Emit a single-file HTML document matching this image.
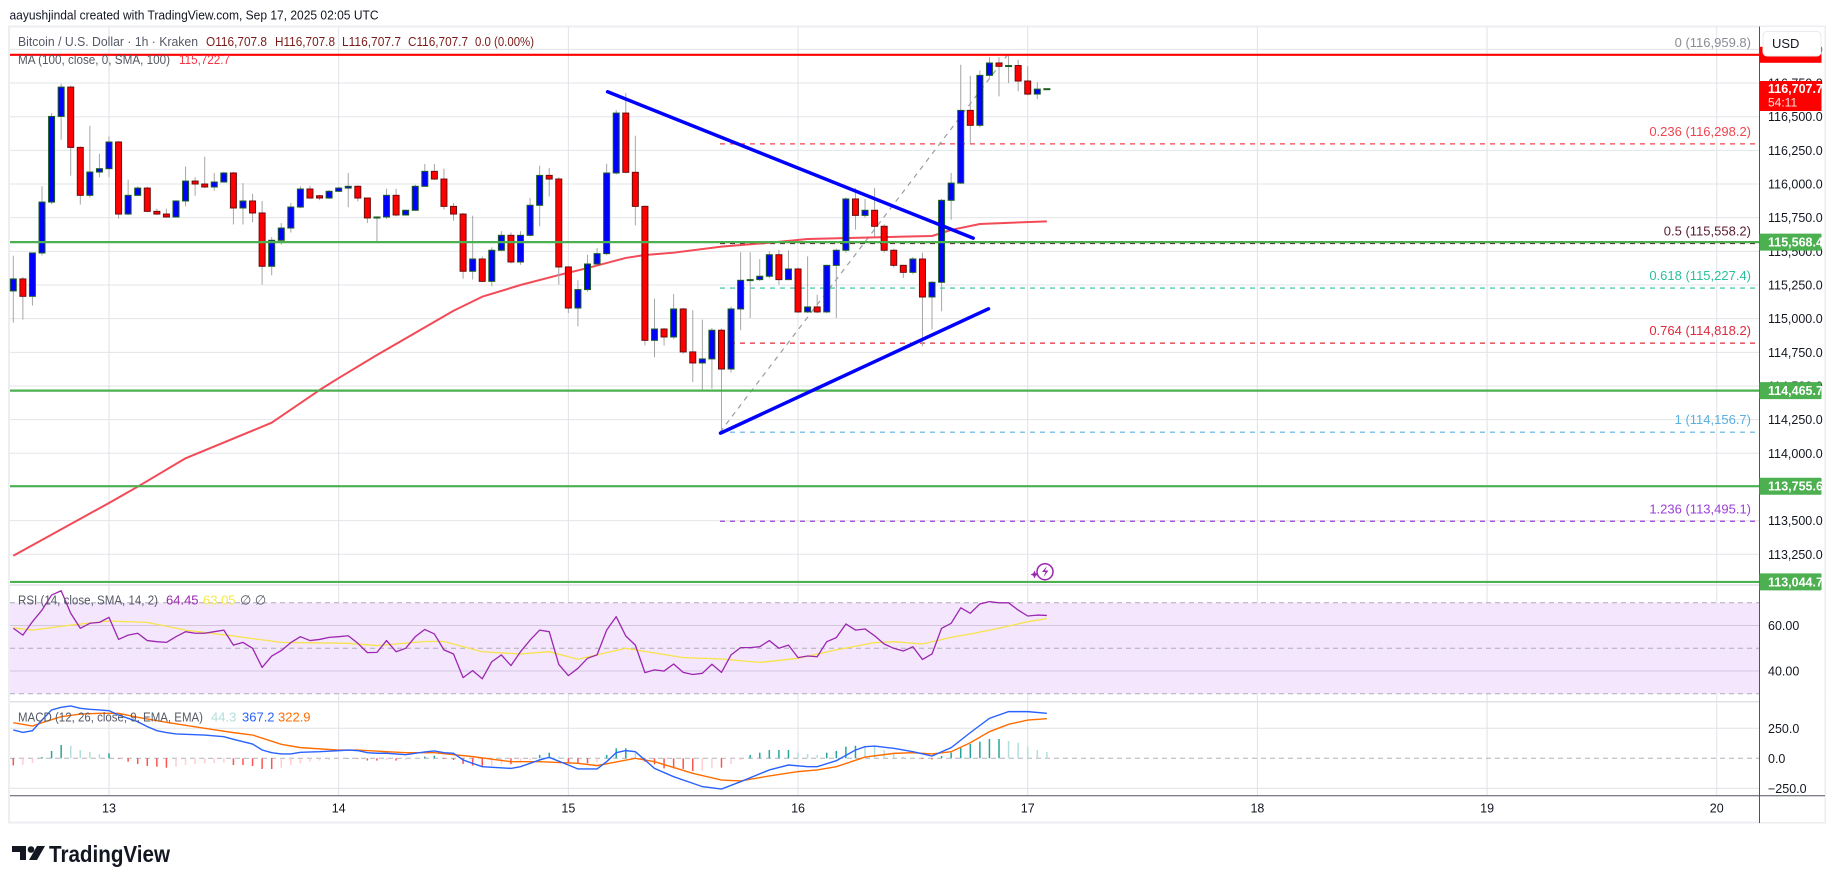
<!DOCTYPE html>
<html><head><meta charset="utf-8"><title>Bitcoin / U.S. Dollar 1h</title>
<style>
html,body{margin:0;padding:0;background:#fff;width:1835px;height:883px;overflow:hidden}
svg{display:block;font-family:"Liberation Sans",sans-serif}
</style></head>
<body>
<svg id="chart" width="1835" height="883" viewBox="0 0 1835 883" xmlns="http://www.w3.org/2000/svg">
<rect x="0" y="0" width="1835" height="883" fill="#ffffff"/>
<text x="9.5" y="19.5" font-size="13" fill="#131722" textLength="369" lengthAdjust="spacingAndGlyphs">aayushjindal created with TradingView.com, Sep 17, 2025 02:05 UTC</text>
<rect x="9" y="26.5" width="1816" height="796" fill="#ffffff" stroke="#eceef2" stroke-width="2"/>
<g id="grid"></g>
<g id="panes"></g>
<g id="fib"></g>
<g id="ma"></g>
<g id="candles"></g>
<g id="levels"></g>
<g id="trend"></g>
<g id="ind"></g>
<g id="axis"></g>
<g id="legend">
  <text x="18" y="46" font-size="13" fill="#555a66" textLength="180" lengthAdjust="spacingAndGlyphs">Bitcoin / U.S. Dollar · 1h · Kraken</text>
  <text x="206" y="46" font-size="13" fill="#7b1a1a" textLength="61" lengthAdjust="spacingAndGlyphs">O116,707.8</text>
  <text x="275" y="46" font-size="13" fill="#7b1a1a" textLength="60" lengthAdjust="spacingAndGlyphs">H116,707.8</text>
  <text x="342" y="46" font-size="13" fill="#7b1a1a" textLength="59" lengthAdjust="spacingAndGlyphs">L116,707.7</text>
  <text x="408" y="46" font-size="13" fill="#7b1a1a" textLength="60" lengthAdjust="spacingAndGlyphs">C116,707.7</text>
  <text x="475" y="46" font-size="13" fill="#7b1a1a" textLength="59" lengthAdjust="spacingAndGlyphs">0.0 (0.00%)</text>
  <text x="18" y="64" font-size="13" fill="#555a66" textLength="152" lengthAdjust="spacingAndGlyphs">MA (100, close, 0, SMA, 100)</text>
  <text x="179" y="64" font-size="13" fill="#f23645" textLength="51" lengthAdjust="spacingAndGlyphs">115,722.7</text>
  <text x="18" y="604.5" font-size="13" fill="#555a66" textLength="140" lengthAdjust="spacingAndGlyphs">RSI (14, close, SMA, 14, 2)</text>
  <text x="166" y="604.5" font-size="13" fill="#9c27b0">64.45</text>
  <text x="203" y="604.5" font-size="13" fill="#f5e94a">63.05</text>
  <text x="240" y="604.5" font-size="13" fill="#555a66">∅  ∅</text>
  <text x="18" y="721.5" font-size="13" fill="#555a66" textLength="185" lengthAdjust="spacingAndGlyphs">MACD (12, 26, close, 9, EMA, EMA)</text>
  <text x="211" y="721.5" font-size="13" fill="#b2dfdb">44.3</text>
  <text x="242" y="721.5" font-size="13" fill="#2962ff">367.2</text>
  <text x="278" y="721.5" font-size="13" fill="#ff6d00">322.9</text>
</g>
<g id="boxes"></g>
<g>
  <path d="M12 846h14v14h-6v-8h-8z M37 846h8l-8 14h-8z" fill="#131722"/>
  <circle cx="31" cy="849.5" r="3.3" fill="#131722"/>
  <text x="49" y="862" font-size="23" font-weight="bold" fill="#131722" textLength="121" lengthAdjust="spacingAndGlyphs">TradingView</text>
</g>
</svg>
<script>
// ---------- data ----------
const opens  = [115206,115295,115166,115488,115866,116502,116720,116272,115916,116089,116114,116312,115777,115916,115970,115797,115777,115755,115874,116022,116000,115978,116015,116082,115822,115874,115785,115389,115582,115673,115829,115963,115913,115896,115946,115970,115983,115896,115748,115755,115916,115770,115805,115983,116094,116037,115834,115777,115352,115443,115277,115508,115619,115421,115619,115842,116064,116037,115384,115079,115216,115406,115483,116082,116527,116087,115834,114839,114923,114864,115072,114753,114671,114701,114914,114626,115072,115285,115290,115315,115475,115290,115369,115050,115087,115050,115396,115508,115889,115767,115805,115686,115508,115396,115344,115443,115161,115270,115879,116007,116547,116436,116807,116899,116874,116880,116765,116668,116708];
const highs  = [115468,115310,115490,115983,116527,116745,116730,116280,116433,116225,116354,116320,116032,115983,115980,115817,115817,115880,116131,116050,116203,116082,116090,116090,116007,115928,115874,115606,115710,115860,115983,115987,115920,115955,115980,116082,115990,115900,115760,115965,115965,115810,115995,116149,116149,116114,115860,115785,115765,115463,115530,115650,115640,115650,115896,116136,116119,116050,115390,115285,115475,115525,116151,116550,116676,116359,115840,115149,114930,115183,115080,115062,114993,114930,114925,115090,115493,115493,115443,115500,115512,115508,115380,115463,115178,115400,115520,115900,115970,115889,115970,115700,115520,115400,115458,115490,115280,115890,116082,116886,116804,116844,116943,116943,116960,116923,116874,116757,116708];
const lows   = [114970,114993,115097,115470,115850,116329,116062,115847,115900,116050,116050,115743,115770,115910,115790,115770,115750,115750,115834,115913,115970,115950,116010,115700,115700,115715,115253,115322,115550,115640,115820,115890,115880,115890,115940,115827,115870,115710,115574,115740,115760,115765,115800,115980,116030,115810,115728,115297,115290,115270,115240,115500,115410,115400,115610,115686,115908,115253,115042,114943,115200,115400,115470,116070,116080,115693,114802,114713,114800,114850,114740,114530,114470,114480,114157,114600,114914,115005,115280,115300,115253,115285,115042,115042,115040,115040,115005,115490,115661,115750,115610,115490,115380,115302,115330,114795,114919,115055,115735,116000,116300,116420,116790,116651,116750,116688,116660,116631,116707];
const closes = [115295,115166,115488,115866,116502,116720,116272,115916,116089,116114,116312,115777,115916,115970,115797,115777,115755,115874,116022,116000,115978,116015,116082,115822,115874,115785,115389,115582,115673,115829,115963,115896,115896,115946,115970,115983,115896,115748,115755,115916,115770,115805,115983,116094,116037,115834,115777,115352,115443,115277,115508,115619,115421,115619,115842,116064,116037,115384,115079,115216,115406,115483,116082,116527,116087,115834,114839,114923,114864,115072,114753,114671,114701,114914,114626,115072,115285,115290,115315,115475,115290,115369,115050,115087,115050,115396,115508,115889,115767,115805,115686,115508,115396,115344,115443,115161,115270,115879,116007,116547,116436,116807,116899,116874,116880,116765,116668,116705,116708];

const maIdx = [0,10,13,18,27,32,34,38,46,49,53,57,60,64,66,69,74,79,83,93,96,98,101,108];
const maVals = [113239,113631,113752,113963,114227,114470,114559,114730,115059,115163,115250,115324,115376,115451,115473,115490,115535,115564,115592,115609,115614,115659,115703,115723];

const rsiVals = [58.8,55.8,61.7,66.8,73.4,75.3,65.4,58.8,61.0,61.4,63.6,53.9,55.8,56.6,53.4,52.9,52.6,55.1,57.3,56.6,56.6,57.3,58.0,51.4,52.6,50.0,41.6,46.6,49.0,52.5,55.1,53.4,53.9,54.8,55.1,55.5,52.2,48.1,48.2,53.4,48.5,50.0,55.1,58.3,56.3,49.3,
47.5,37.1,40.2,36.6,44.1,47.1,42.4,48.5,53.6,58.0,57.3,42.9,38.0,41.2,45.6,47.1,58.0,63.9,55.4,51.4,39.3,40.5,40.0,43.1,39.4,38.5,39.0,43.0,39.4,47.1,50.3,50.3,50.7,53.4,50.0,51.4,45.9,46.6,46.3,52.9,54.7,60.7,58.0,58.5,55.5,51.9,50.0,
48.8,50.7,45.1,47.5,58.8,61.0,67.8,65.4,69.5,70.5,70.0,70.0,66.8,64.2,64.6,64.45];
const rsiSmaIdx = [0,2,6,10,14,18,23,28,35,38,43,45,49,53,56,59,64,70,74,78,82,86,90,92,95,98,100,103,106,108];
const rsiSmaVals = [59,58,60.2,62,61.4,58,55.4,52.6,52.2,51.2,53,53,48.5,47.5,48.5,45.2,50,45.9,45.3,43.8,45.6,49.3,52.5,52.9,51.9,54.8,56.3,58.8,61.7,63.05];

const macdIdx = [0,1,2,3,4,5,6,7,8,9,10,11,12,13,14,15,16,17,18,20,22,23,25,26,27,28,29,30,32,34,35,36,37,38,39,41,42,43,44,45,
46,47,49,52,53,55,56,58,59,61,62,63,64,65,66,67,69,72,74,76,79,81,83,84,86,88,89,90,92,94,96,98,100,102,104,106,108];
const macdVals = [236,216,230,319,403,425,436,417,408,403,397,361,333,305,264,230,214,203,200,194,180,158,119,69,47,36,36,50,55,64,69,64,47,42,42,30,42,53,61,47,
42,-14,-70,-84,-70,-14,8,-56,-89,-89,-28,47,64,55,-14,-84,-153,-236,-256,-195,-97,-56,-70,-70,-20,69,97,102,83,55,19,89,214,333,389,389,375];
const signalIdx = [0,2,3,5,7,9,11,13,16,20,23,25,28,30,34,36,39,41,44,48,52,55,59,61,65,67,71,74,76,79,82,84,86,89,92,94,96,98,100,102,104,106,108];
const signalVals = [297,269,297,347,369,375,375,342,300,250,214,194,117,89,69,69,55,47,47,14,-28,-28,-42,-61,0,-28,-125,-181,-189,-147,-111,-97,-70,10,41,47,36,55,130,222,283,319,330];
const histVals = [-60,-55,-40,10,61,111,105,69,53,36,42,-5,-28,-47,-64,-70,-78,-70,-56,-47,-42,-39,-36,-56,-56,-64,-89,-89,-78,-56,-42,-28,-19,-14,-6,2,-6,-19,-19,-14,-19,-14,-6,14,22,-6,
-14,-47,-61,-70,-61,-50,-50,-36,-14,28,47,14,-36,-42,-42,-33,28,83,83,47,-28,-50,-84,-84,-89,-106,-103,-78,-78,-47,-14,28,47,69,69,69,47,36,28,47,61,97,105,103,97,69,36,14,8,-6,-9,19,47,92,119,139,161,161,144,130,97,69,52];

const priceTicks = [113250,113500,113750,114000,114250,114500,114750,115000,115250,115500,115750,116000,116250,116500,116750,117000];
const dayLabels = ["13","14","15","16","17","18","19","20"];
const dayStartIdx = [10,34,58,82,106,130,154,178];
const levelPrices = [115568.4,114465.7,113755.6,113044.7];
const resistancePrice = 116959.8;
const fibRatios = ["0","0.236","0.5","0.618","0.764","1","1.236"];
const fibPrices = [116959.8,116298.2,115558.2,115227.4,114818.2,114156.7,113495.1];
const fibColors = ["#8a8d96","#f0444f","#5a1a30","#2bbf9c","#e0283d","#5ab0e0","#9a3fd8"];
const rsiTicks = [60,40];
const macdTicks = [250,0,-250];
const currentPrice = 116707.7;
const fibStartIdx = 74, fibEndIdx = 104;
const upperTrend = [[62.1,116685],[100.3,115598]];
const lowerTrend = [[73.9,114150],[101.9,115073]];

// ---------- scales ----------
const X0 = 10, X1 = 1759;
const xi = i => 13.3 + 9.57 * i;
const py = p => 116.7 + (116500 - p) * 0.13464;
const ry = v => 648.3 - (v - 50) * 2.275;
const my = v => 758.3 - v * 0.12;
const NS = "http://www.w3.org/2000/svg";
function mk(parent, tag, attrs, txt) {
  const el = document.createElementNS(NS, tag);
  for (const k in attrs) el.setAttribute(k, attrs[k]);
  if (txt !== undefined) el.textContent = txt;
  document.getElementById(parent).appendChild(el);
  return el;
}
const fmt = v => v.toLocaleString("en-US", {minimumFractionDigits: 1, maximumFractionDigits: 1});
let el;

// ---------- grid ----------
priceTicks.forEach(p => {
  el = mk("grid", "line", {x1: X0, x2: X1, y1: py(p), y2: py(p), stroke: "#e3e5ea", "stroke-width": 1});
  
  
});
dayStartIdx.forEach(d => {
  el = mk("grid", "line", {x1: xi(d), x2: xi(d), y1: 27, y2: 795, stroke: "#e0e2e7", "stroke-width": 1});
  
  
});

// ---------- panes ----------
el = mk("panes", "rect", {x: X0, y: ry(70), width: X1 - X0, height: ry(30) - ry(70), fill: "#f3e6fd"});


[70, 50, 30].forEach(v => {
  el = mk("panes", "line", {x1: X0, x2: X1, y1: ry(v), y2: ry(v), stroke: "#b0acb8", "stroke-dasharray": "5,4", "stroke-width": 1});
  
  
});
rsiTicks.forEach(v => {
  el = mk("panes", "line", {x1: X0, x2: X1, y1: ry(v), y2: ry(v), stroke: "#d3c7de", "stroke-width": 1});
  
  
});
macdTicks.forEach(v => {
  el = mk("panes", "line", {x1: X0, x2: X1, y1: my(v), y2: my(v), stroke: v === 0 ? "#b0b3ba" : "#e0e2e7", "stroke-dasharray": v === 0 ? "5,4" : "none", "stroke-width": 1});
  
  
});
[585, 701.7].forEach(y => {
  el = mk("panes", "line", {x1: X0, x2: 1825, y1: y, y2: y, stroke: "#e0e2e7", "stroke-width": 1.5});
  
  
});

// ---------- fib ----------
fibPrices.forEach((p, k) => {
  el = mk("fib", "line", {x1: xi(fibStartIdx) - 1.5, x2: X1, y1: py(p), y2: py(p), stroke: fibColors[k], "stroke-dasharray": "5,5", "stroke-width": 1.2});
  
  
  el = mk("fib", "text", {x: 1751, y: py(p) - 8, "text-anchor": "end", "font-size": 13, fill: fibColors[k]}, fibRatios[k] + " (" + fmt(p) + ")");
  
  
});
el = mk("fib", "line", {x1: xi(fibStartIdx) - 1.5, y1: py(fibPrices[5]), x2: xi(fibEndIdx) - 1, y2: py(fibPrices[0]), stroke: "#9a9ca3", "stroke-dasharray": "5,5", "stroke-width": 1.2});



// ---------- MA ----------
el = mk("ma", "polyline", {points: maIdx.map((i, k) => xi(i) + "," + py(maVals[k])).join(" "), fill: "none", stroke: "#f23645", "stroke-width": 2, "stroke-opacity": 0.9, "stroke-linejoin": "round"});



// ---------- candles ----------
for (let i = 0; i < opens.length; i++) {
  const up = closes[i] >= opens[i];
  const x = xi(i);
  const g = mk("candles", "g", {});
  
  
  const w = document.createElementNS(NS, "line");
  w.setAttribute("x1", x); w.setAttribute("x2", x);
  w.setAttribute("y1", py(highs[i])); w.setAttribute("y2", py(lows[i]));
  w.setAttribute("stroke", "#a6a6a6"); w.setAttribute("stroke-width", 1);
  
  
  g.appendChild(w);
  const top = py(Math.max(opens[i], closes[i])), bot = py(Math.min(opens[i], closes[i]));
  const b = document.createElementNS(NS, "rect");
  b.setAttribute("x", x - 3); b.setAttribute("width", 6);
  b.setAttribute("y", top); b.setAttribute("height", Math.max(1, bot - top));
  b.setAttribute("fill", up ? "#0000ff" : "#ff0000");
  b.setAttribute("stroke", up ? "#1b5e20" : "#6b0d0d"); b.setAttribute("stroke-width", 1);
  
  
  g.appendChild(b);
}

// ---------- horizontal levels ----------
el = mk("levels", "line", {x1: X0, x2: X1, y1: py(resistancePrice), y2: py(resistancePrice), stroke: "#ff0000", "stroke-width": 2.2});


levelPrices.forEach(p => {
  el = mk("levels", "line", {x1: X0, x2: X1, y1: py(p), y2: py(p), stroke: "#4caf50", "stroke-width": 2.2});
  
  
});

// ---------- trendlines ----------
[upperTrend, lowerTrend].forEach((t, k) => {
  el = mk("trend", "line", {x1: xi(t[0][0]), y1: py(t[0][1]), x2: xi(t[1][0]), y2: py(t[1][1]), stroke: "#0000ff", "stroke-width": 3.5, "stroke-linecap": "round"});
  
  
});

// ---------- indicators ----------
el = mk("ind", "polyline", {points: rsiSmaIdx.map((i, k) => xi(i) + "," + ry(rsiSmaVals[k])).join(" "), fill: "none", stroke: "#f7e34a", "stroke-width": 1.3});


el = mk("ind", "polyline", {points: rsiVals.map((v, i) => xi(i) + "," + ry(v)).join(" "), fill: "none", stroke: "#9c27b0", "stroke-width": 1.3, "stroke-linejoin": "round"});


for (let i = 0; i < histVals.length; i++) {
  const v = histVals[i], pv = i > 0 ? histVals[i - 1] : 0;
  const col = v >= 0 ? (v >= pv ? "#26a69a" : "#b2dfdb") : (v <= pv ? "#ff5252" : "#ffcdd2");
  el = mk("ind", "rect", {x: xi(i) - 0.75, width: 1.5, y: Math.min(my(0), my(v)), height: Math.max(0.5, Math.abs(my(v) - my(0))), fill: col});
  
  
}
el = mk("ind", "polyline", {points: signalIdx.map((i, k) => xi(i) + "," + my(signalVals[k])).join(" "), fill: "none", stroke: "#ff6d00", "stroke-width": 1.4});


el = mk("ind", "polyline", {points: macdIdx.map((i, k) => xi(i) + "," + my(macdVals[k])).join(" "), fill: "none", stroke: "#2962ff", "stroke-width": 1.4});



// alert icon
el = mk("ind", "circle", {cx: 1045, cy: 571.7, r: 8, fill: "#ffffff", stroke: "#9c27b0", "stroke-width": 1.5});


el = mk("ind", "path", {d: "M1047 566l-5 6h3.5l-2 5 5-6.5h-3.5z", fill: "#9c27b0"});


el = mk("ind", "path", {d: "M1034.5 570.5l1.2 2.8 2.8 1.2-2.8 1.2-1.2 2.8-1.2-2.8-2.8-1.2 2.8-1.2z", fill: "#9c27b0"});



// ---------- axes ----------
el = mk("axis", "rect", {x: 1759.5, y: 27, width: 65, height: 795, fill: "#ffffff"});


el = mk("axis", "line", {x1: 1759.5, x2: 1759.5, y1: 26.5, y2: 823, stroke: "#50535e", "stroke-width": 1});


el = mk("axis", "line", {x1: X0, x2: 1825, y1: 795.7, y2: 795.7, stroke: "#50535e", "stroke-width": 1});


priceTicks.forEach(p => {
  el = mk("axis", "text", {x: 1768, y: py(p) + 4.5, "font-size": 12.5, fill: "#131722"}, fmt(p));
  
  
});
rsiTicks.forEach(v => {
  el = mk("axis", "text", {x: 1768, y: ry(v) + 4.5, "font-size": 12.5, fill: "#131722"}, v.toFixed(2));
  
  
});
macdTicks.forEach(v => {
  el = mk("axis", "text", {x: 1768, y: my(v) + 4.5, "font-size": 12.5, fill: "#131722"}, v < 0 ? "\u2212" + Math.abs(v).toFixed(1) : v.toFixed(1));
  
  
});
dayLabels.forEach((d, k) => {
  el = mk("axis", "text", {x: xi(dayStartIdx[k]), y: 812.5, "font-size": 12.5, fill: "#131722", "text-anchor": "middle"}, d);
  
  
});

// ---------- axis boxes ----------
el = mk("boxes", "rect", {x: 1759.5, y: py(resistancePrice) - 8, width: 62, height: 16, fill: "#ff0000"});


el = mk("boxes", "rect", {x: 1763, y: 31.5, width: 58, height: 24.5, rx: 4, fill: "#ffffff", stroke: "#e8eaee"});


el = mk("boxes", "text", {x: 1772, y: 48, "font-size": 13, fill: "#131722"}, "USD");


el = mk("boxes", "rect", {x: 1759.5, y: 81, width: 62, height: 30, fill: "#ff0000"});


el = mk("boxes", "text", {x: 1768, y: 93, "font-size": 12.5, "font-weight": "bold", fill: "#ffffff"}, fmt(currentPrice));


el = mk("boxes", "text", {x: 1768, y: 106.5, "font-size": 12, fill: "#ffe0e0"}, "54:11");


levelPrices.forEach(p => {
  el = mk("boxes", "rect", {x: 1759.5, y: py(p) - 8.5, width: 62, height: 17, fill: "#4caf50", rx: 1});
  
  
  el = mk("boxes", "text", {x: 1768, y: py(p) + 4.5, "font-size": 12.5, "font-weight": "bold", fill: "#ffffff"}, fmt(p));
  
  
});
</script>
</body></html>
